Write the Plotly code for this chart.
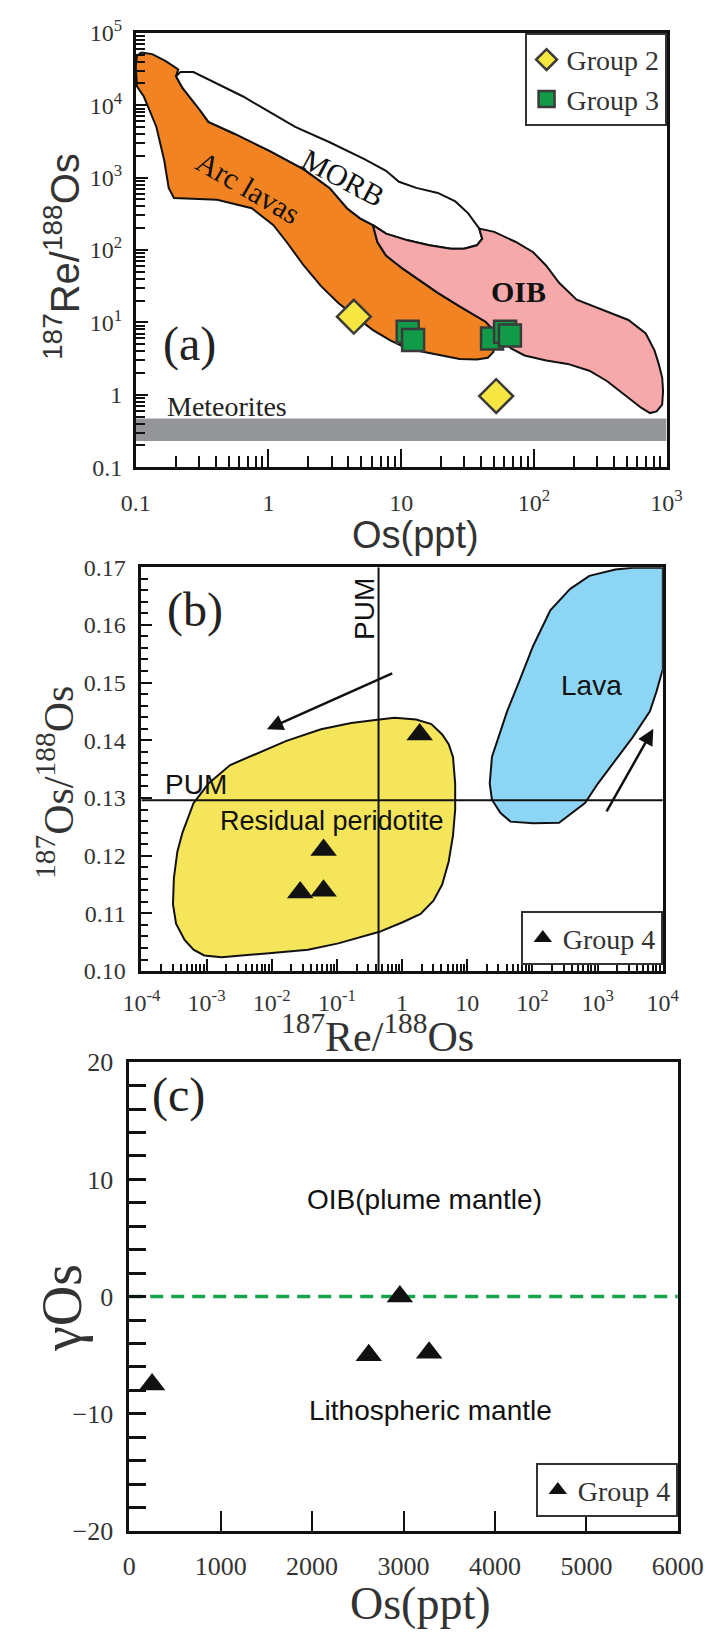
import numpy as np
import plotly.graph_objects as go

W, H = 723, 1632

# ---------------- Panel (a): 187Re/188Os vs Os(ppt) ----------------
arc_os = [0.110, 0.133, 0.167, 0.209, 0.201, 0.225, 0.304, 0.353, 0.554, 1.01, 1.85, 2.89, 3.91, 4.90, 6.13,
          6.62, 7.69, 10.4, 18.9, 27.6, 43.3, 49.5, 50.3, 49.5, 45.0, 37.2, 27.6, 20.4, 15.1, 11.2,
          8.28, 6.13, 4.54, 3.36, 2.49, 1.85, 1.37, 1.09, 0.748, 0.410, 0.194, 0.177, 0.164, 0.143,
          0.115, 0.102, 0.100, 0.102]
arc_reos = [53500, 50800, 40900, 31300, 25200, 17300, 8590, 5890, 4040, 2360, 1300, 721, 378, 274, 220,
            129, 83.6, 54.3, 25.6, 16.6, 10.2, 7.82, 4.82, 3.88, 3.24, 3.07, 3.13, 3.49, 3.88, 4.33,
            5.66, 7.82, 12.0, 18.5, 31.7, 60.6, 129, 220, 378, 494, 522, 721, 1710, 5010,
            13200, 18200, 34800, 48100]

morb_os = [0.201, 0.217, 0.272, 0.353, 0.644, 1.01, 1.59, 2.89, 5.28, 7.69, 9.63, 13.0, 18.9, 25.6, 32.0,
           38.7, 40.8, 37.2, 29.7, 23.7, 16.3, 11.2, 7.69, 6.13, 4.90, 3.91, 2.89, 1.85, 1.01, 0.554,
           0.353, 0.304, 0.225]
morb_reos = [25200, 28700, 28700, 22600, 13200, 8130, 5010, 3080, 1800, 1240, 875, 721, 614, 469, 321,
             198, 143, 116, 104, 104, 116, 136, 168, 220, 274, 378, 721, 1300, 2360, 4040,
             5890, 8590, 17300]

oib_os = [6.13, 7.69, 11.2, 16.3, 23.7, 29.7, 37.2, 40.8, 38.7, 50.3, 73.2, 98.9, 124, 155, 210,
          329, 516, 697, 811, 873, 927, 941, 927, 841, 751, 647, 479, 355, 262, 180,
          124, 85.1, 67.9, 56.2, 49.5, 43.3, 27.6, 18.9, 10.4, 7.69, 6.62]
oib_reos = [220, 168, 136, 116, 104, 104, 116, 143, 198, 178, 129, 93.1, 60.6, 35.3, 20.6,
            14.9, 10.8, 7.03, 4.10, 2.67, 1.73, 1.13, 0.731, 0.590, 0.559, 0.657, 1.01, 1.55, 2.15, 2.67,
            2.97, 3.49, 4.33, 5.66, 7.82, 10.2, 16.6, 25.6, 54.3, 83.6, 129]

meteorite_os_range = [0.1, 1000]
meteorite_reos_range = [0.23, 0.47]

g2_os = [4.4, 52]
g2_reos = [12.0, 0.96]
g3_os = [11.2, 12.3, 48.4, 60.7, 66.0]
g3_reos = [7.4, 5.7, 6.0, 7.4, 6.6]

a_xtick_vals = [0.1, 1, 10, 100, 1000]
a_xtick_text = ["0.1", "1", "10", "10<sup>2</sup>", "10<sup>3</sup>"]
a_ytick_vals = [0.1, 1, 10, 100, 1000, 1e4, 1e5]
a_ytick_text = ["0.1", "1", "10<sup>1</sup>", "10<sup>2</sup>", "10<sup>3</sup>", "10<sup>4</sup>", "10<sup>5</sup>"]

# ---------------- Panel (b): 187Os/188Os vs 187Re/188Os ----------------
yellow_reos = [0.449, 0.766, 1.64, 2.81, 4.12, 5.19, 6.04, 6.52, 6.52, 6.04, 5.19, 4.12, 3.03, 1.92, 1.04,
               0.449, 0.105, 0.036, 0.0091, 0.0017, 9.2e-4, 6.3e-4, 4.6e-4, 3.4e-4, 3.05e-4, 3.15e-4,
               3.56e-4, 4.27e-4, 6.3e-4, 1.07e-3, 2.3e-3, 5.75e-3, 0.0168, 0.057, 0.166]
yellow_osos = [0.1436, 0.1439, 0.1436, 0.1428, 0.1410, 0.1393, 0.1371, 0.1325, 0.1280, 0.1235, 0.1190,
               0.1150, 0.1122, 0.1099, 0.1085, 0.1068, 0.1048, 0.1037, 0.1031, 0.1024, 0.1027, 0.1037,
               0.1054, 0.1082, 0.1116, 0.1161, 0.1207, 0.1240, 0.1291, 0.1325, 0.1357, 0.1376, 0.1399,
               0.1419, 0.1430]

blue_reos = [375, 746, 1870, 3440, 10000, 10000, 7980, 6340, 3440, 1870, 1010, 640, 405, 256, 102,
             46.1, 32.4, 23.9, 22.1, 23.9, 30.1, 40.8, 64.6, 102, 188]
blue_osos = [0.1662, 0.1685, 0.1696, 0.1699, 0.1699, 0.1523, 0.1484, 0.1450, 0.1405, 0.1365, 0.1325,
             0.1291, 0.1274, 0.1257, 0.1256, 0.1259, 0.1274, 0.1297, 0.1325, 0.1371, 0.1405, 0.1450,
             0.1506, 0.1563, 0.1625]

pum_reos = 0.435
pum_osos = 0.1296
b_x_range = [1e-4, 1e4]
b_y_range = [0.10, 0.17]

arrow1_tail = (0.743, 0.1517)
arrow1_head = (0.00843, 0.1419)
arrow2_tail = (1334, 0.1274)
arrow2_head = (7160, 0.1420)

g4b_reos = [1.86, 0.0624, 0.0273, 0.0624]
g4b_osos = [0.1410, 0.1210, 0.1136, 0.1139]

b_xtick_vals = [1e-4, 1e-3, 1e-2, 1e-1, 1, 10, 100, 1000, 1e4]
b_xtick_text = ["10<sup>-4</sup>", "10<sup>-3</sup>", "10<sup>-2</sup>", "10<sup>-1</sup>", "1", "10",
                "10<sup>2</sup>", "10<sup>3</sup>", "10<sup>4</sup>"]
b_ytick_vals = [0.10, 0.11, 0.12, 0.13, 0.14, 0.15, 0.16, 0.17]
b_ytick_text = ["0.10", "0.11", "0.12", "0.13", "0.14", "0.15", "0.16", "0.17"]

# ---------------- Panel (c): gamma Os vs Os(ppt) ----------------
g4c_os = [250, 2620, 3280, 2960]
g4c_gamma = [-7.5, -5.0, -4.8, 0.0]
chondrite_gamma = 0
c_x_range = [0, 6000]
c_xtick_vals = [0, 1000, 2000, 3000, 4000, 5000, 6000]
c_ytick_vals = [-20, -10, 0, 10, 20]

# ---------------- Figure ----------------
fig = go.Figure()
SERIF = "Liberation Serif"
SANS = "Liberation Sans"


def closed(v):
    return list(v) + [v[0]]


def polygon(xs, ys, color, xa, ya, outline=True):
    fig.add_trace(go.Scatter(
        x=closed(xs), y=closed(ys), mode="lines", fill="toself", fillcolor=color,
        line=dict(color="#111111", width=2) if outline else dict(width=0, color=color),
        xaxis=xa, yaxis=ya, showlegend=False, hoverinfo="skip"))


# panel a
fig.add_trace(go.Scatter(
    x=[meteorite_os_range[0], meteorite_os_range[1], meteorite_os_range[1], meteorite_os_range[0]],
    y=[meteorite_reos_range[0], meteorite_reos_range[0], meteorite_reos_range[1], meteorite_reos_range[1]],
    mode="lines", fill="toself", fillcolor="#939598", line=dict(width=0, color="#939598"),
    xaxis="x", yaxis="y", showlegend=False, hoverinfo="skip"))
polygon(arc_os, arc_reos, "#F28322", "x", "y")
polygon(morb_os, morb_reos, "#FFFFFF", "x", "y")
polygon(oib_os, oib_reos, "#F5A9AB", "x", "y")
fig.add_trace(go.Scatter(x=g2_os, y=g2_reos, mode="markers", name="Group 2",
                         marker=dict(symbol="diamond", size=26, color="#F5E642",
                                     line=dict(color="#3A3A3A", width=2.5)),
                         xaxis="x", yaxis="y", legend="legend"))
fig.add_trace(go.Scatter(x=g3_os, y=g3_reos, mode="markers", name="Group 3",
                         marker=dict(symbol="square", size=22, color="#119A48",
                                     line=dict(color="#3A3A3A", width=2.5)),
                         xaxis="x", yaxis="y", legend="legend"))

# panel b
polygon(yellow_reos, yellow_osos, "#F4E55A", "x2", "y2")
polygon(blue_reos, blue_osos, "#8DD5F4", "x2", "y2")
fig.add_trace(go.Scatter(x=b_x_range, y=[pum_osos, pum_osos], mode="lines",
                         line=dict(color="#111111", width=2), xaxis="x2", yaxis="y2",
                         showlegend=False, hoverinfo="skip"))
fig.add_trace(go.Scatter(x=[pum_reos, pum_reos], y=b_y_range, mode="lines",
                         line=dict(color="#111111", width=2), xaxis="x2", yaxis="y2",
                         showlegend=False, hoverinfo="skip"))
fig.add_trace(go.Scatter(x=g4b_reos, y=g4b_osos, mode="markers", name="Group 4",
                         marker=dict(symbol="triangle-up", size=23, color="#111111"),
                         xaxis="x2", yaxis="y2", legend="legend2"))

# panel c
fig.add_trace(go.Scatter(x=c_x_range, y=[chondrite_gamma, chondrite_gamma], mode="lines",
                         line=dict(color="#17A34A", width=3.5, dash="13px,8px"),
                         xaxis="x3", yaxis="y3", showlegend=False, hoverinfo="skip"))
fig.add_trace(go.Scatter(x=g4c_os, y=g4c_gamma, mode="markers", name="Group 4",
                         marker=dict(symbol="triangle-up", size=23, color="#111111"),
                         xaxis="x3", yaxis="y3", legend="legend3"))

tickfont = dict(family=SERIF, size=24, color="#333333")
common = dict(showline=True, linecolor="#111111", linewidth=2.5, mirror=True, ticks="inside",
              tickcolor="#111111", tickwidth=2, showgrid=False, zeroline=False, tickfont=tickfont)

minor_a_x = [k * 10.0 ** e for e in range(-1, 3) for k in range(2, 10)]
minor_a_y = [k * 10.0 ** e for e in range(-1, 5) for k in range(2, 10)]
minor_b_x = [k * 10.0 ** e for e in range(-4, 4) for k in range(2, 10)]


def dom_x(l, r):
    return [l / W, r / W]


def dom_y(t, b):
    return [1 - b / H, 1 - t / H]


legend_common = dict(xanchor="right", yanchor="top", bordercolor="#333333", borderwidth=2,
                     bgcolor="white", font=dict(family=SERIF, size=28, color="#333333"),
                     itemsizing="trace", tracegroupgap=0)

fig.update_layout(
    width=W, height=H, margin=dict(l=0, r=0, t=0, b=0),
    paper_bgcolor="white", plot_bgcolor="white",
    xaxis=dict(common, type="log", range=[-1, 3], domain=dom_x(116, 682), anchor="y",
               tickmode="array", tickvals=a_xtick_vals, ticktext=a_xtick_text, ticklen=18,
               ticklabelstandoff=12,
               minor=dict(tickmode="array", tickvals=minor_a_x, ticks="inside", ticklen=11,
                          tickcolor="#111111", tickwidth=1.5)),
    yaxis=dict(common, type="log", range=[-1, 5], domain=dom_y(8, 451), anchor="x",
               tickmode="array", tickvals=a_ytick_vals, ticktext=a_ytick_text, ticklen=12,
               ticklabelstandoff=6,
               minor=dict(tickmode="array", tickvals=minor_a_y, ticks="inside", ticklen=9,
                          tickcolor="#111111", tickwidth=1.5)),
    xaxis2=dict(common, type="log", range=[-4, 4], domain=dom_x(122, 678), anchor="y2",
                tickmode="array", tickvals=b_xtick_vals, ticktext=b_xtick_text, ticklen=12,
                ticklabelstandoff=8,
                minor=dict(tickmode="array", tickvals=minor_b_x, ticks="inside", ticklen=7,
                           tickcolor="#111111", tickwidth=1.5)),
    yaxis2=dict(common, range=[0.10, 0.17], domain=dom_y(553, 965), anchor="x2",
                tickmode="array", tickvals=b_ytick_vals, ticktext=b_ytick_text, ticklen=11,
                ticklabelstandoff=8,
                minor=dict(dtick=0.002, tick0=0.10, ticks="inside", ticklen=7,
                           tickcolor="#111111", tickwidth=1.5)),
    xaxis3=dict(common, range=[0, 6000], domain=dom_x(109, 694), anchor="y3",
                tickmode="array", tickvals=c_xtick_vals, ticklen=20, ticklabelstandoff=10,
                tickfont=dict(family=SERIF, size=26, color="#333333")),
    yaxis3=dict(common, range=[-20, 20], domain=dom_y(1058, 1536), anchor="x3",
                tickmode="array", tickvals=c_ytick_vals, ticklen=10, ticklabelstandoff=8,
                tickfont=dict(family=SERIF, size=26, color="#333333"),
                minor=dict(dtick=2, tick0=0, ticks="inside", ticklen=17,
                           tickcolor="#111111", tickwidth=2.5)),
    legend=dict(legend_common, x=682 / W, y=1 - 8 / H),
    legend2=dict(legend_common, x=678 / W, y=1 - 904 / H),
    legend3=dict(legend_common, x=694 / W, y=1 - 1467 / H),
)

ann = []
lg = np.log10


def paper_text(text, x, y, family, size, angle=0):
    ann.append(dict(text=text, x=x / W, y=1 - y / H, xref="paper", yref="paper",
                    xanchor="center", yanchor="middle", textangle=angle,
                    font=dict(family=family, size=size, color="#333333"), showarrow=False))


# axis titles
paper_text("<sup>187</sup>Re/<sup>188</sup>Os", 38, 236, SANS, 40, -90)
paper_text("Os(ppt)", 414, 520, SANS, 38)
paper_text("<sup>187</sup>Os/<sup>188</sup>Os", 31, 773, SERIF, 42, -90)
paper_text("<sup>187</sup>Re/<sup>188</sup>Os", 374, 1029, SERIF, 42)
paper_text("γOs", 38, 1309, SERIF, 56, -90)
paper_text("Os(ppt)", 420, 1610, SERIF, 46)


def data_text(text, x, y, xr, yr, family, size, angle=0, xanchor="center", color="#111111"):
    ann.append(dict(text=text, x=x, y=y, xref=xr, yref=yr, textangle=angle, xanchor=xanchor,
                    yanchor="middle", font=dict(family=family, size=size, color=color),
                    showarrow=False))


# panel a texts
data_text("MORB", lg(3.63), lg(995), "x", "y", SERIF, 30, 28)
data_text("Arc lavas", lg(0.705), lg(721), "x", "y", SERIF, 30, 30)
data_text("<b>OIB</b>", lg(76), lg(27), "x", "y", SERIF, 30)
data_text("(a)", lg(0.252), lg(5.08), "x", "y", SERIF, 48, color="#222222")
data_text("Meteorites", lg(0.166), lg(0.69), "x", "y", SERIF, 28, xanchor="left", color="#222222")

# panel b texts
data_text("(b)", lg(6.76e-4), 0.1625, "x2", "y2", SERIF, 48, color="#222222")
data_text("PUM", lg(0.263), 0.1628, "x2", "y2", SANS, 28, -90)
data_text("PUM", lg(2.15e-4), 0.1323, "x2", "y2", SANS, 28, xanchor="left")
data_text("Residual peridotite", lg(0.0836), 0.1260, "x2", "y2", SANS, 27)
data_text("Lava", lg(805), 0.1495, "x2", "y2", SANS, 28)
for tail, head in [(arrow1_tail, arrow1_head), (arrow2_tail, arrow2_head)]:
    ann.append(dict(text="", x=lg(head[0]), y=head[1], ax=lg(tail[0]), ay=tail[1],
                    xref="x2", yref="y2", axref="x2", ayref="y2", showarrow=True,
                    arrowhead=2, arrowsize=1.3, arrowwidth=2.5, arrowcolor="#111111"))

# panel c texts
data_text("(c)", 535, 17.2, "x3", "y3", SERIF, 48, color="#222222")
data_text("OIB(plume mantle)", 3230, 8.3, "x3", "y3", SANS, 28)
data_text("Lithospheric mantle", 3290, -9.7, "x3", "y3", SANS, 28)

fig.update_layout(annotations=ann)
fig.write_html("out.html")
